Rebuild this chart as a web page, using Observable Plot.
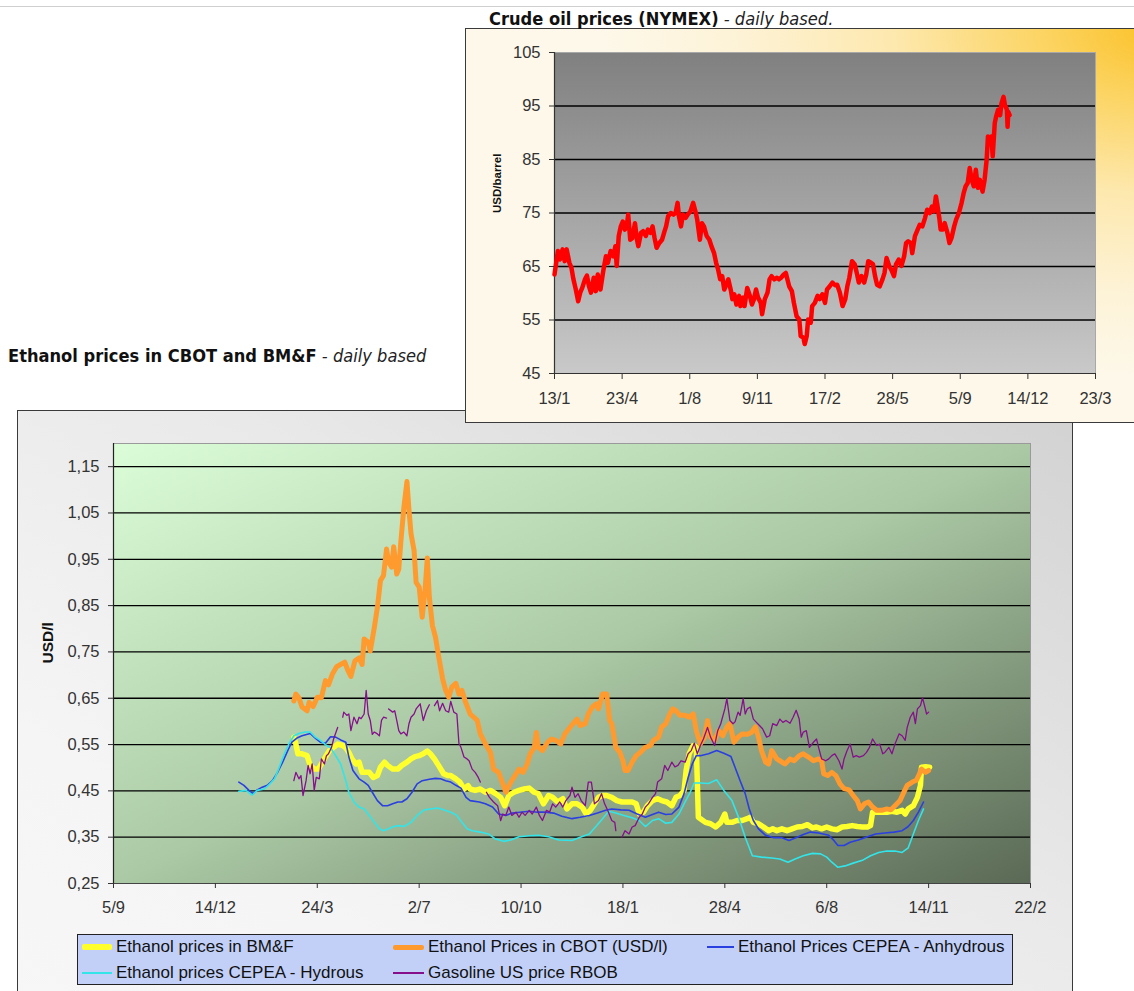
<!DOCTYPE html>
<html>
<head>
<meta charset="utf-8">
<title>Ethanol and crude oil prices</title>
<script src="https://cdn.jsdelivr.net/npm/d3@7"></script>
<script src="https://cdn.jsdelivr.net/npm/@observablehq/plot@0.6"></script>
<style>
  html, body { margin: 0; padding: 0; background: #fff; }
  #page { position: relative; width: 1134px; height: 991px; overflow: hidden;
          font-family: "Liberation Sans", Arial, sans-serif; }
  .abs { position: absolute; box-sizing: border-box; }
  #topRule { left: 0; top: 6px; width: 1134px; height: 1px; background: #cfcfcf; }
  #ethBox { left: 17px; top: 410px; width: 1056px; height: 640px; border: 1px solid #3a3a3a;
            background: linear-gradient(to bottom left, #d2d2d2 0%, #e9e9e9 40%, #f5f5f5 75%, #f7f7f7 100%); }
  #ethChart { left: 17px; top: 410px; }
  #legend { left: 77px; top: 934px; width: 936px; height: 51px; border: 1.5px solid #222;
            background: #c2d0f8; }
  .legItem { position: absolute; height: 0; }
  .legSwatch { position: absolute; }
  .legText { position: absolute; font-size: 17px; line-height: 20px; top: -10px; color: #111; white-space: nowrap; }
  #oilBox { left: 465px; top: 28px; width: 690px; height: 395px; border: 1px solid #3a3a3a;
            background: radial-gradient(ellipse 95% 105% at 100% 0%, #fbc22a 0%, #fcd566 18%, #fde8ae 40%, #fdf3d8 65%, #fdf8ea 85%); }
  #oilChart { left: 465px; top: 28px; }
  #titles { left: 0; top: 0; pointer-events: none; }
</style>
</head>
<body>
<div id="page">
  <div id="topRule" class="abs"></div>
  <div id="ethBox" class="abs"></div>
  <div id="ethChart" class="abs"></div>
  <div id="legend" class="abs"></div>
  <div id="oilBox" class="abs"></div>
  <div id="oilChart" class="abs"></div>
  <svg id="titles" class="abs" width="1134" height="991"></svg>
</div>
<script>
// ---------- Crude oil (NYMEX), daily: [days after 13 Jan 2006, USD/barrel] ----------
const oilStart = "2006-01-13";
const oilEnd = "2008-03-23";
const oilTickDates = ["2006-01-13", "2006-04-23", "2006-08-01", "2006-11-09", "2007-02-17",
                      "2007-05-28", "2007-09-05", "2007-12-14", "2008-03-23"];
const oilYTicks = [45, 55, 65, 75, 85, 95, 105];
const oilGrid = [55, 65, 75, 85, 95];
const oil = [
  [0,63.5],[5,67.9],[8,66.3],[12,68.2],[15,66.0],[18,68.2],[22,65.7],[25,64.8],[28,62.6],[31,61.0],
  [35,58.5],[38,60.1],[41,61.0],[45,62.6],[48,63.3],[51,61.3],[54,60.1],[58,62.9],[61,60.4],[64,63.5],
  [68,60.7],[72,64.1],[76,66.9],[79,65.7],[83,67.9],[87,66.9],[90,68.8],[92,65.1],[95,70.7],[98,72.5],
  [101,73.4],[104,71.9],[107,72.8],[109,74.7],[112,70.0],[115,70.3],[119,73.1],[122,70.0],[124,68.8],[128,71.3],
  [131,71.6],[135,70.7],[138,71.9],[142,71.3],[145,72.5],[148,70.3],[151,68.5],[155,69.4],[159,70.0],[162,71.3],
  [165,72.5],[168,74.4],[172,75.0],[176,74.7],[179,75.0],[182,76.9],[184,74.4],[187,72.5],[190,74.7],[194,74.1],
  [197,74.7],[201,75.3],[205,76.9],[209,75.0],[211,73.8],[215,70.0],[218,73.1],[221,72.5],[225,70.7],[229,70.0],
  [232,68.8],[236,67.5],[239,65.7],[242,64.4],[245,62.6],[248,63.2],[251,60.7],[254,61.6],[257,62.6],[261,60.4],
  [263,58.9],[266,59.8],[269,57.9],[273,59.5],[275,57.6],[279,59.2],[281,57.6],[285,61.0],[289,59.5],[292,57.9],
  [295,58.9],[298,60.7],[301,59.2],[305,58.2],[307,56.1],[311,58.9],[315,60.1],[318,62.6],[321,63.2],[325,62.6],
  [329,62.9],[332,62.6],[335,62.9],[339,63.5],[342,63.8],[347,61.3],[351,60.4],[354,58.2],[358,55.7],[362,55.1],
  [364,52.0],[368,51.7],[370,50.5],[373,52.0],[375,55.1],[379,54.5],[381,57.6],[385,58.2],[389,59.5],[392,58.9],
  [396,59.8],[400,58.2],[403,60.7],[407,61.3],[411,62.0],[415,61.5],[418,61.6],[422,60.1],[426,57.6],[430,58.9],
  [433,61.3],[436,62.9],[440,66.0],[444,65.4],[447,63.8],[450,62.0],[454,63.2],[458,62.0],[461,63.5],[464,66.0],
  [468,65.7],[471,65.4],[474,63.2],[477,61.6],[481,61.3],[485,62.6],[488,63.8],[491,66.6],[495,65.1],[498,64.4],
  [502,63.2],[505,65.4],[509,66.3],[513,65.1],[517,66.9],[520,69.4],[523,69.7],[527,69.4],[529,67.5],[533,70.7],
  [537,71.9],[540,72.8],[544,72.5],[548,74.1],[551,75.6],[555,75.0],[558,76.2],[561,75.3],[564,78.1],[566,76.6],
  [569,74.1],[571,71.9],[574,71.9],[577,73.1],[581,71.3],[584,69.4],[587,70.3],[591,72.5],[594,73.8],[598,75.0],
  [602,76.9],[605,78.7],[608,80.0],[611,80.6],[614,83.4],[617,81.2],[620,80.0],[623,83.1],[626,79.7],[629,81.2],
  [633,79.0],[636,81.2],[639,84.9],[641,89.3],[644,88.0],[646,89.3],[648,85.6],[651,91.8],[653,93.0],[656,94.3],
  [659,93.3],[661,95.5],[664,96.7],[666,95.2],[669,94.3],[670,91.1],[671,93.9],[673,93.3]
];

// ---------- Ethanol / gasoline, daily: [days after 5 Sep 2005, USD/l] ----------
const ethStart = "2005-09-05";
const ethEnd = "2008-02-22";
const ethTickDates = ["2005-09-05", "2005-12-14", "2006-03-24", "2006-07-02", "2006-10-10",
                      "2007-01-18", "2007-04-28", "2007-08-06", "2007-11-14", "2008-02-22"];
const ethYTicks = [0.25, 0.35, 0.45, 0.55, 0.65, 0.75, 0.85, 0.95, 1.05, 1.15];
const ethGrid = [0.35, 0.45, 0.55, 0.65, 0.75, 0.85, 0.95, 1.05, 1.15];

const bmf = [
  [177,.566],[179,.551],[181,.530],[185,.530],[190,.526],[193,.505],[197,.497],[201,.497],[204,.508],[208,.523],
  [212,.537],[216,.544],[220,.551],[225,.548],[228,.543],[231,.533],[234,.519],[238,.508],[241,.512],[244,.490],
  [247,.490],[251,.490],[255,.479],[259,.483],[262,.501],[266,.512],[269,.505],[274,.497],[279,.497],[283,.505],
  [288,.512],[292,.519],[296,.524],[300,.526],[304,.530],[308,.536],[311,.530],[315,.519],[319,.505],[324,.487],
  [328,.483],[331,.483],[336,.476],[340,.469],[344,.454],[348,.461],[350,.454],[355,.451],[360,.454],[365,.447],
  [370,.451],[375,.444],[380,.436],[384,.418],[388,.440],[393,.447],[398,.451],[403,.454],[408,.456],[413,.447],
  [417,.444],[422,.422],[427,.440],[431,.436],[436,.426],[441,.433],[445,.411],[450,.422],[455,.422],[460,.415],
  [464,.400],[468,.408],[472,.422],[476,.436],[480,.440],[484,.440],[489,.436],[494,.429],[499,.426],[504,.426],
  [509,.426],[513,.422],[516,.400],[520,.404],[524,.418],[529,.429],[534,.433],[538,.429],[543,.426],[548,.418],
  [552,.436],[556,.440],[560,.451],[562,.494],[565,.530],[569,.548],[572,.545],[574,.393],[576,.390],[581,.382],
  [586,.379],[591,.372],[596,.382],[600,.400],[602,.382],[607,.382],[612,.386],[617,.386],[622,.390],[625,.393],
  [628,.382],[633,.379],[638,.372],[643,.364],[647,.368],[651,.364],[656,.368],[661,.364],[666,.368],[671,.372],
  [676,.373],[681,.377],[686,.370],[690,.372],[695,.368],[700,.372],[705,.368],[710,.366],[715,.372],[720,.373],
  [725,.375],[730,.373],[735,.372],[740,.372],[743,.375],[745,.404],[749,.404],[754,.404],[759,.404],[764,.406],
  [769,.404],[774,.408],[777,.400],[780,.411],[785,.418],[789,.436],[792,.462],[793,.501],[797,.502],[801,.501]
];

const cbot = [
  [177,.644],[179,.659],[182,.651],[185,.631],[190,.623],[192,.641],[196,.632],[200,.652],[204,.651],[208,.688],
  [211,.679],[215,.703],[219,.718],[223,.723],[227,.728],[230,.710],[233,.697],[237,.731],[241,.737],[244,.723],
  [246,.778],[250,.771],[252,.752],[256,.803],[259,.846],[262,.904],[265,.915],[268,.972],[270,.944],[273,.933],
  [275,.977],[278,.918],[280,.929],[282,.987],[285,1.062],[288,1.118],[290,1.057],[292,1.005],[295,.969],[297,.900],
  [300,.890],[303,.825],[306,.890],[308,.953],[310,.868],[313,.807],[316,.782],[319,.742],[323,.692],[326,.667],
  [329,.652],[332,.674],[336,.682],[339,.659],[342,.667],[345,.645],[350,.616],[357,.602],[360,.573],[365,.551],
  [370,.533],[373,.497],[378,.490],[381,.472],[385,.447],[390,.469],[394,.483],[398,.497],[402,.490],[406,.508],
  [409,.530],[413,.544],[415,.576],[417,.544],[421,.537],[426,.555],[430,.562],[434,.559],[439,.551],[443,.573],
  [447,.584],[451,.595],[455,.605],[458,.591],[463,.595],[466,.616],[470,.631],[474,.638],[476,.627],[480,.659],
  [484,.659],[487,.602],[489,.595],[493,.544],[497,.533],[500,.515],[502,.494],[505,.494],[509,.512],[513,.526],
  [517,.533],[522,.544],[527,.548],[530,.559],[535,.566],[538,.588],[542,.595],[546,.616],[549,.627],[552,.623],
  [556,.613],[561,.613],[565,.609],[569,.616],[572,.580],[576,.551],[580,.566],[583,.602],[586,.566],[590,.559],
  [594,.580],[598,.569],[602,.588],[605,.595],[609,.555],[613,.566],[617,.573],[622,.572],[626,.576],[630,.588],
  [633,.566],[636,.537],[640,.512],[643,.508],[646,.537],[651,.519],[654,.515],[659,.508],[664,.519],[668,.515],
  [673,.526],[677,.530],[682,.523],[687,.515],[692,.519],[695,.515],[697,.487],[701,.483],[705,.490],[709,.483],
  [713,.465],[717,.455],[722,.452],[726,.440],[730,.429],[733,.411],[737,.422],[741,.426],[745,.415],[749,.408],
  [754,.408],[759,.411],[763,.409],[767,.418],[772,.429],[775,.444],[779,.462],[784,.469],[788,.473],[791,.487],
  [793,.497],[797,.490],[800,.494]
];

const anhydrous = [
  [123,.469],[128,.462],[133,.451],[137,.444],[141,.452],[146,.458],[151,.462],[156,.472],[161,.490],[166,.512],
  [171,.537],[175,.555],[180,.564],[185,.569],[193,.574],[198,.564],[203,.555],[208,.553],[213,.567],[218,.566],
  [223,.560],[228,.555],[231,.523],[235,.494],[241,.476],[246,.469],[250,.462],[254,.447],[259,.429],[264,.418],
  [269,.418],[274,.422],[279,.426],[283,.426],[288,.433],[293,.447],[298,.465],[303,.472],[310,.475],[316,.477],
  [321,.476],[326,.472],[331,.469],[336,.462],[341,.456],[346,.436],[350,.429],[359,.426],[365,.422],[372,.415],
  [378,.400],[385,.397],[391,.402],[399,.404],[408,.406],[416,.404],[424,.404],[432,.402],[440,.395],[450,.390],
  [458,.393],[467,.397],[475,.402],[483,.408],[489,.411],[498,.409],[506,.408],[514,.400],[522,.393],[529,.399],
  [535,.404],[542,.399],[548,.400],[555,.415],[560,.444],[564,.479],[568,.508],[572,.526],[576,.526],[584,.530],
  [592,.537],[599,.531],[606,.524],[610,.501],[615,.472],[620,.444],[624,.411],[628,.386],[633,.368],[640,.354],
  [648,.349],[656,.349],[663,.343],[671,.350],[677,.356],[684,.361],[692,.359],[702,.354],[707,.343],[711,.332],
  [717,.332],[723,.339],[731,.344],[740,.351],[748,.357],[757,.359],[766,.361],[774,.364],[780,.373],[785,.386],
  [790,.404],[795,.426]
];

const hydrous = [
  [123,.449],[130,.451],[136,.441],[141,.451],[148,.454],[153,.464],[158,.476],[162,.497],[167,.526],[172,.551],
  [177,.569],[182,.574],[188,.577],[193,.577],[198,.566],[203,.559],[208,.550],[213,.543],[218,.526],[223,.508],
  [228,.472],[231,.447],[236,.426],[241,.415],[246,.411],[251,.397],[256,.382],[261,.368],[265,.364],[270,.368],
  [275,.373],[280,.375],[285,.373],[292,.382],[298,.397],[305,.409],[311,.411],[318,.413],[324,.409],[331,.404],
  [337,.397],[342,.382],[347,.368],[352,.364],[360,.361],[368,.357],[375,.346],[383,.341],[390,.344],[398,.351],
  [408,.353],[417,.354],[427,.351],[437,.344],[450,.343],[458,.350],[467,.357],[473,.372],[480,.390],[486,.406],
  [493,.402],[501,.397],[509,.392],[516,.386],[522,.373],[529,.386],[535,.390],[542,.380],[548,.382],[555,.400],
  [561,.426],[566,.447],[570,.467],[576,.467],[584,.466],[592,.474],[599,.451],[607,.429],[614,.390],[620,.350],
  [627,.310],[636,.307],[646,.305],[654,.303],[662,.296],[669,.303],[677,.310],[686,.315],[694,.314],[700,.307],
  [705,.296],[711,.285],[718,.288],[726,.294],[735,.300],[743,.310],[751,.317],[759,.320],[767,.320],[774,.317],
  [780,.327],[785,.357],[790,.386],[795,.411]
];

// null marks days without a quote (the line breaks there)
const rbob = [
  [177,.472],[179,.490],[182,.476],[184,.483],[186,.440],[189,.472],[191,.505],[193,.487],[195,.508],[197,.451],
  [199,.479],[202,.476],[204,.519],[207,.508],[209,.526],[211,.530],[214,.544],[216,.562],[220,.587],[222,null],
  [225,.609],[226,.620],[229,.613],[231,.616],[233,.580],[236,.609],[239,.595],[241,.609],[243,.606],[246,.616],
  [248,.667],[250,.616],[252,.602],[254,.572],[256,.577],[259,.573],[261,.569],[263,.602],[265,.609],[268,.607],
  [269,null],[270,.627],[274,.620],[276,.623],[278,.602],[280,.580],[282,.573],[285,.577],[288,.569],[290,.595],
  [292,.609],[295,.616],[297,.627],[301,.638],[304,.602],[307,.623],[310,.636],[312,null],[315,.634],[318,.645],
  [320,.623],[323,.639],[326,.623],[329,.620],[331,.643],[334,.620],[337,.616],[339,.553],[341,.544],[344,.523],
  [347,.519],[349,.515],[352,.497],[355,.490],[358,.479],[360,.469],[363,null],[366,.447],[369,.436],[373,.426],
  [377,.418],[380,.386],[382,.400],[385,.397],[388,.415],[391,.397],[395,.404],[398,.393],[401,.404],[404,.397],
  [408,.408],[411,.400],[415,.415],[418,.397],[421,.386],[425,.408],[428,.404],[431,.422],[434,.415],[438,.426],
  [441,.415],[444,.429],[448,.440],[450,.458],[453,.436],[456,.444],[459,.429],[463,.418],[466,.469],[469,.469],
  [472,.422],[476,.429],[479,.444],[482,.422],[485,.408],[489,.386],[492,.382],[493,.364],[496,null],[499,.350],
  [502,.364],[506,.357],[509,.372],[512,.375],[516,.393],[519,.400],[522,.415],[525,.422],[529,.436],[532,.444],
  [534,.469],[538,.476],[541,.505],[544,.494],[548,.512],[551,.502],[554,.505],[557,.515],[561,.512],[564,.530],
  [567,.537],[570,.553],[573,.530],[576,.548],[579,.562],[583,.587],[586,.566],[590,.548],[593,.580],[596,.595],
  [600,.627],[602,.649],[605,.602],[608,.595],[610,.599],[613,.620],[615,.613],[618,.649],[620,.616],[622,.627],
  [625,.631],[628,.605],[631,.598],[634,.591],[637,.584],[641,.566],[644,.569],[647,.595],[651,.591],[654,.605],
  [657,.598],[660,.602],[664,.596],[667,.609],[670,.624],[673,.605],[675,.566],[677,.577],[680,.580],[683,.544],
  [687,.555],[690,.562],[692,.544],[695,.519],[699,.515],[702,.519],[705,.526],[708,.530],[712,.515],[715,.497],
  [717,.519],[720,.537],[723,.551],[726,.523],[729,.526],[732,.523],[736,.526],[739,.533],[742,.544],[745,.562],
  [749,.548],[752,.551],[755,.530],[757,.533],[761,.544],[764,.530],[767,.551],[771,.573],[774,.569],[777,.559],
  [779,.587],[782,.609],[785,.620],[787,.595],[789,.627],[792,.634],[794,.651],[796,.634],[798,.616],[800,.620]
];

// Series in drawing order (later ones on top), with their legend slot
const ethSeries = [
  {name: "Ethanol prices in BM&F",            data: bmf,       color: "#ffff2e", width: 5.5, row: 0, col: 0},
  {name: "Ethanol Prices in CBOT (USD/l)",    data: cbot,      color: "#ff9a2e", width: 5,   row: 0, col: 1},
  {name: "Ethanol Prices CEPEA - Anhydrous",  data: anhydrous, color: "#2a3fe0", width: 1.6, row: 0, col: 2},
  {name: "Ethanol prices CEPEA - Hydrous",    data: hydrous,   color: "#33e4e8", width: 1.6, row: 1, col: 0},
  {name: "Gasoline US price RBOB",            data: rbob,      color: "#86108c", width: 1.3, row: 1, col: 1}
];

// ---------- helpers ----------
const utc = s => new Date(s + "T00:00:00Z");
const rowsFrom = (start, pairs) => pairs.map(([day, v]) => ({date: d3.utcDay.offset(utc(start), day), value: v}));
const dayMonth = d3.utcFormat("%-d/%-m");
const commaDecimal = v => v.toFixed(2).replace(".", ",");

// A render function that adds a linear gradient to the plot's <defs>
const gradient = (id, x2, y2, stops) => () => {
  const defs = d3.create("svg:defs");
  const g = defs.append("linearGradient").attr("id", id)
    .attr("x1", 0).attr("y1", 0).attr("x2", x2).attr("y2", y2);
  for (const [offset, color] of stops) g.append("stop").attr("offset", offset).attr("stop-color", color);
  return defs.node();
};

const baseStyle = {
  background: "transparent",
  fontFamily: "'Liberation Sans', Arial, sans-serif",
  fontSize: "16.5px",
  color: "#333",
  overflow: "visible",
  maxWidth: "none"
};

// ---------- ethanol chart ----------
const ethChart = Plot.plot({
  width: 1055,
  height: 581,
  marginLeft: 96,
  marginRight: 42,
  marginTop: 33,
  marginBottom: 108,
  style: baseStyle,
  x: {type: "utc", domain: [utc(ethStart), utc(ethEnd)]},
  y: {domain: [0.25, 1.20]},
  marks: [
    gradient("ethPlotFill", 1, 1, [["0%", "#dbfdd8"], ["50%", "#abc9a5"], ["100%", "#5a6955"]]),
    Plot.frame({fill: "url(#ethPlotFill)", stroke: "#9a9a9a"}),
    Plot.gridY(ethGrid, {stroke: "#000", strokeOpacity: 1, strokeWidth: 1.3}),
    Plot.ruleX([utc(ethStart)], {stroke: "#222", strokeWidth: 1.2}),
    Plot.ruleY([0.25], {stroke: "#444", strokeWidth: 1.2}),
    ...ethSeries.map(s => Plot.line(rowsFrom(ethStart, s.data), {
      x: "date", y: "value", stroke: s.color, strokeWidth: s.width,
      strokeLinejoin: "round", strokeLinecap: "round"
    })),
    Plot.axisY(ethYTicks, {tickFormat: commaDecimal, tickSize: 5, tickPadding: 9, label: null}),
    Plot.axisX(ethTickDates.map(utc), {tickFormat: dayMonth, tickSize: 5, tickPadding: 13, label: null}),
    Plot.text(["USD/l"], {frameAnchor: "left", dx: -65, rotate: -90, fontWeight: "bold",
                          fontSize: 15.5, fill: "#111"})
  ]
});
document.getElementById("ethChart").append(ethChart);

// ---------- legend ----------
const legendCols = [{swatch: 4, text: 38}, {swatch: 315, text: 350}, {swatch: 629, text: 660}];
const legendRows = [12, 38];
const legend = d3.select("#legend");
for (const s of ethSeries) {
  const col = legendCols[s.col];
  const item = legend.append("div").attr("class", "legItem")
    .style("left", col.swatch + "px").style("top", legendRows[s.row] + "px");
  item.append("div").attr("class", "legSwatch")
    .style("left", "0px").style("top", (-s.width / 2) + "px")
    .style("width", (col.text - col.swatch - 4) + "px").style("height", s.width + "px")
    .style("background", s.color).style("border-radius", s.width > 3 ? "2px" : "0");
  item.append("div").attr("class", "legText")
    .style("left", (col.text - col.swatch) + "px").text(s.name);
}

// ---------- crude oil chart ----------
const oilChart = Plot.plot({
  width: 669,
  height: 394,
  marginLeft: 89,
  marginRight: 39,
  marginTop: 24,
  marginBottom: 49,
  style: baseStyle,
  x: {type: "utc", domain: [utc(oilStart), utc(oilEnd)]},
  y: {domain: [45, 105]},
  marks: [
    gradient("oilPlotFill", 0, 1, [["0%", "#808080"], ["100%", "#c9c9c9"]]),
    Plot.frame({fill: "url(#oilPlotFill)", stroke: "#a8a8a8"}),
    Plot.gridY(oilGrid, {stroke: "#000", strokeOpacity: 1, strokeWidth: 1.5}),
    Plot.ruleX([utc(oilStart)], {stroke: "#333", strokeWidth: 1.2}),
    Plot.ruleY([45], {stroke: "#333", strokeWidth: 1.2}),
    Plot.line(rowsFrom(oilStart, oil), {x: "date", y: "value", stroke: "#ff0000", strokeWidth: 4.5,
                                         strokeLinejoin: "round", strokeLinecap: "round"}),
    Plot.axisY(oilYTicks, {tickSize: 5, tickPadding: 9, label: null}),
    Plot.axisX(oilTickDates.map(utc), {tickFormat: dayMonth, tickSize: 6, tickPadding: 13, label: null}),
    Plot.text(["USD/barrel"], {frameAnchor: "left", dx: -57, rotate: -90, fontWeight: "bold",
                               fontSize: 11.5, fill: "#111"})
  ]
});
document.getElementById("oilChart").append(oilChart);

// ---------- titles ----------
const titles = d3.select("#titles");
const addTitle = (x, y, bold, italic) => {
  const t = titles.append("text")
    .attr("transform", `translate(${x},${y}) scale(1,1.1)`)
    .attr("font-family", "'DejaVu Sans', Verdana, sans-serif")
    .attr("font-size", 16.3).attr("fill", "#111");
  t.append("tspan").attr("font-weight", "bold").text(bold);
  t.append("tspan").attr("font-style", "italic").attr("fill", "#222").text(italic);
};
addTitle(489, 25, "Crude oil prices (NYMEX)", " - daily based.");
addTitle(8, 361.5, "Ethanol prices in CBOT and BM&F", " - daily based");
</script>
</body>
</html>
